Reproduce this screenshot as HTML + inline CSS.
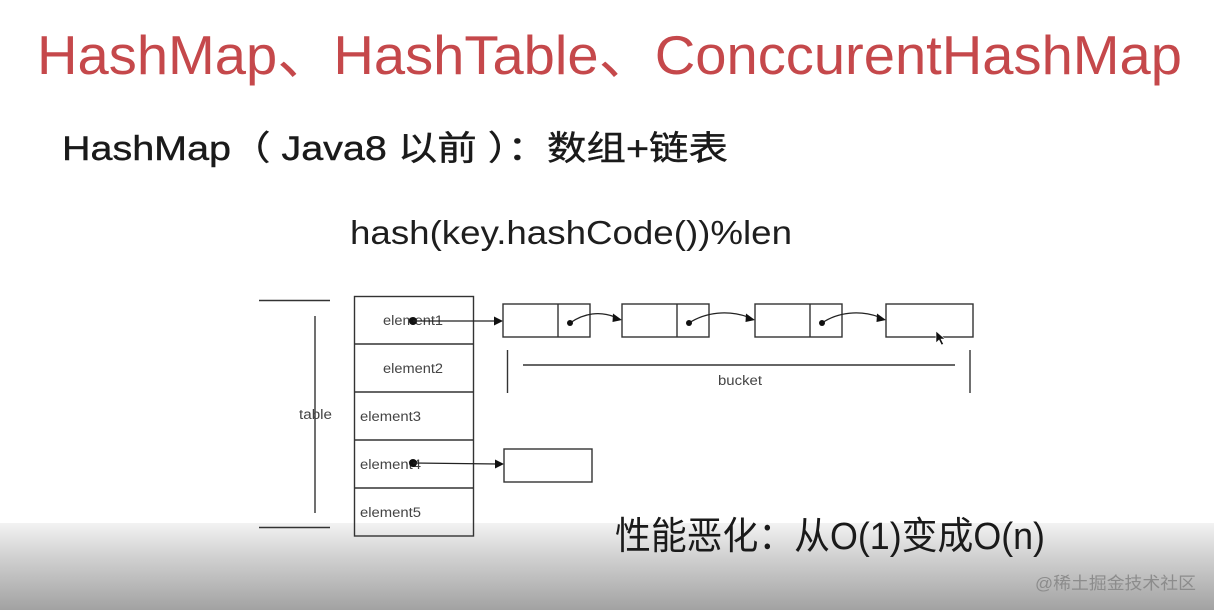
<!DOCTYPE html>
<html>
<head>
<meta charset="utf-8">
<style>
  html,body{margin:0;padding:0;background:#fff;}
  body{width:1214px;height:610px;overflow:hidden;}
  svg{display:block;}
  .lat{font-family:"Liberation Sans","Noto Sans CJK SC",sans-serif;}
</style>
</head>
<body>
<svg width="1214" height="610" viewBox="0 0 1214 610" xmlns="http://www.w3.org/2000/svg">
  <defs>
    <linearGradient id="bg" x1="0" y1="0" x2="0" y2="1">
      <stop offset="0" stop-color="#f3f3f3"/>
      <stop offset="0.4" stop-color="#d0d0d0"/>
      <stop offset="1" stop-color="#a2a2a2"/>
    </linearGradient>
  </defs>
  <rect x="0" y="0" width="1214" height="610" fill="#ffffff"/>
  <rect x="0" y="523" width="1214" height="87" fill="url(#bg)"/>

  <!-- Title -->
  <text class="lat" x="37" y="74" font-size="55" fill="#c5484b" textLength="1145" lengthAdjust="spacingAndGlyphs">HashMap、HashTable、ConccurentHashMap</text>

  <!-- Subtitle -->
  <text class="lat" x="62" y="160" font-size="34" fill="#1a1a1a" stroke="#1a1a1a" stroke-width="0.4" textLength="666" lengthAdjust="spacingAndGlyphs">HashMap（ Java8 以前 ）：数组+链表</text>

  <!-- hash formula -->
  <text class="lat" x="350" y="244" font-size="33" fill="#1e1e1e" textLength="442" lengthAdjust="spacingAndGlyphs">hash(key.hashCode())%len</text>

  <!-- Left bracket -->
  <g stroke="#333" stroke-width="1.4" fill="none">
    <line x1="259" y1="300.5" x2="330" y2="300.5"/>
    <line x1="259" y1="527.5" x2="330" y2="527.5"/>
    <line x1="315" y1="316" x2="315" y2="513"/>
  </g>
  <text class="lat" x="299" y="419" font-size="13.5" fill="#444" textLength="33" lengthAdjust="spacingAndGlyphs">table</text>

  <!-- Table -->
  <g stroke="#333" stroke-width="1.4" fill="none">
    <rect x="354.5" y="296.5" width="119" height="239.5"/>
    <line x1="354.5" y1="344" x2="473.5" y2="344"/>
    <line x1="354.5" y1="392" x2="473.5" y2="392"/>
    <line x1="354.5" y1="440" x2="473.5" y2="440"/>
    <line x1="354.5" y1="488" x2="473.5" y2="488"/>
  </g>
  <g class="lat" font-size="13.5" fill="#444">
    <text x="383" y="325" textLength="60" lengthAdjust="spacingAndGlyphs">element1</text>
    <text x="383" y="373" textLength="60" lengthAdjust="spacingAndGlyphs">element2</text>
    <text x="360" y="421" textLength="61" lengthAdjust="spacingAndGlyphs">element3</text>
    <text x="360" y="469" textLength="61" lengthAdjust="spacingAndGlyphs">element4</text>
    <text x="360" y="517" textLength="61" lengthAdjust="spacingAndGlyphs">element5</text>
  </g>

  <!-- element1 arrow -->
  <circle cx="413" cy="321" r="4" fill="#111"/>
  <line x1="413" y1="321" x2="497" y2="321" stroke="#222" stroke-width="1.3"/>
  <polygon points="503,321 494,316.5 494,325.5" fill="#111"/>

  <!-- element4 arrow -->
  <circle cx="413" cy="463" r="4" fill="#111"/>
  <line x1="413" y1="463" x2="498" y2="464" stroke="#222" stroke-width="1.3"/>
  <polygon points="504,464 495,459.5 495,468.5" fill="#111"/>

  <!-- Nodes -->
  <g stroke="#333" stroke-width="1.4" fill="#fff">
    <rect x="503" y="304" width="87" height="33"/>
    <line x1="558" y1="304" x2="558" y2="337"/>
    <rect x="622" y="304" width="87" height="33"/>
    <line x1="677" y1="304" x2="677" y2="337"/>
    <rect x="755" y="304" width="87" height="33"/>
    <line x1="810" y1="304" x2="810" y2="337"/>
    <rect x="886" y="304" width="87" height="33"/>
    <rect x="504" y="449" width="88" height="33"/>
  </g>

  <!-- curved links -->
  <g stroke="#222" stroke-width="1.3" fill="none">
    <path d="M570,323 C584,313 600,311 615,317"/>
    <path d="M689,323 C706,312 728,310 748,317"/>
    <path d="M822,323 C838,312 860,310 879,317"/>
  </g>
  <g fill="#111">
    <circle cx="570" cy="323" r="3"/>
    <circle cx="689" cy="323" r="3"/>
    <circle cx="822" cy="323" r="3"/>
    <polygon points="622,320 613,313.5 612.5,322"/>
    <polygon points="755,320 746,313.5 745.5,322"/>
    <polygon points="886,320 877,313.5 876.5,322"/>
  </g>

  <!-- cursor -->
  <polygon points="936,331 936,343 939,340 941.5,345 943.5,344 941,339 945,339" fill="#111" stroke="#fff" stroke-width="0.6"/>

  <!-- bucket bracket -->
  <g stroke="#333" stroke-width="1.4" fill="none">
    <line x1="507.5" y1="350" x2="507.5" y2="393"/>
    <line x1="970" y1="350" x2="970" y2="393"/>
    <line x1="523" y1="365" x2="955" y2="365"/>
  </g>
  <text class="lat" x="718" y="385" font-size="13.5" fill="#444" textLength="44" lengthAdjust="spacingAndGlyphs">bucket</text>

  <!-- bottom statement -->
  <text class="lat" x="615" y="549" font-size="38" fill="#1a1a1a" textLength="430" lengthAdjust="spacingAndGlyphs">性能恶化：从O(1)变成O(n)</text>

  <!-- watermark -->
  <text class="lat" x="1035" y="589" font-size="17" fill="#8c8c8c" textLength="161" lengthAdjust="spacingAndGlyphs">@稀土掘金技术社区</text>
</svg>
</body>
</html>
